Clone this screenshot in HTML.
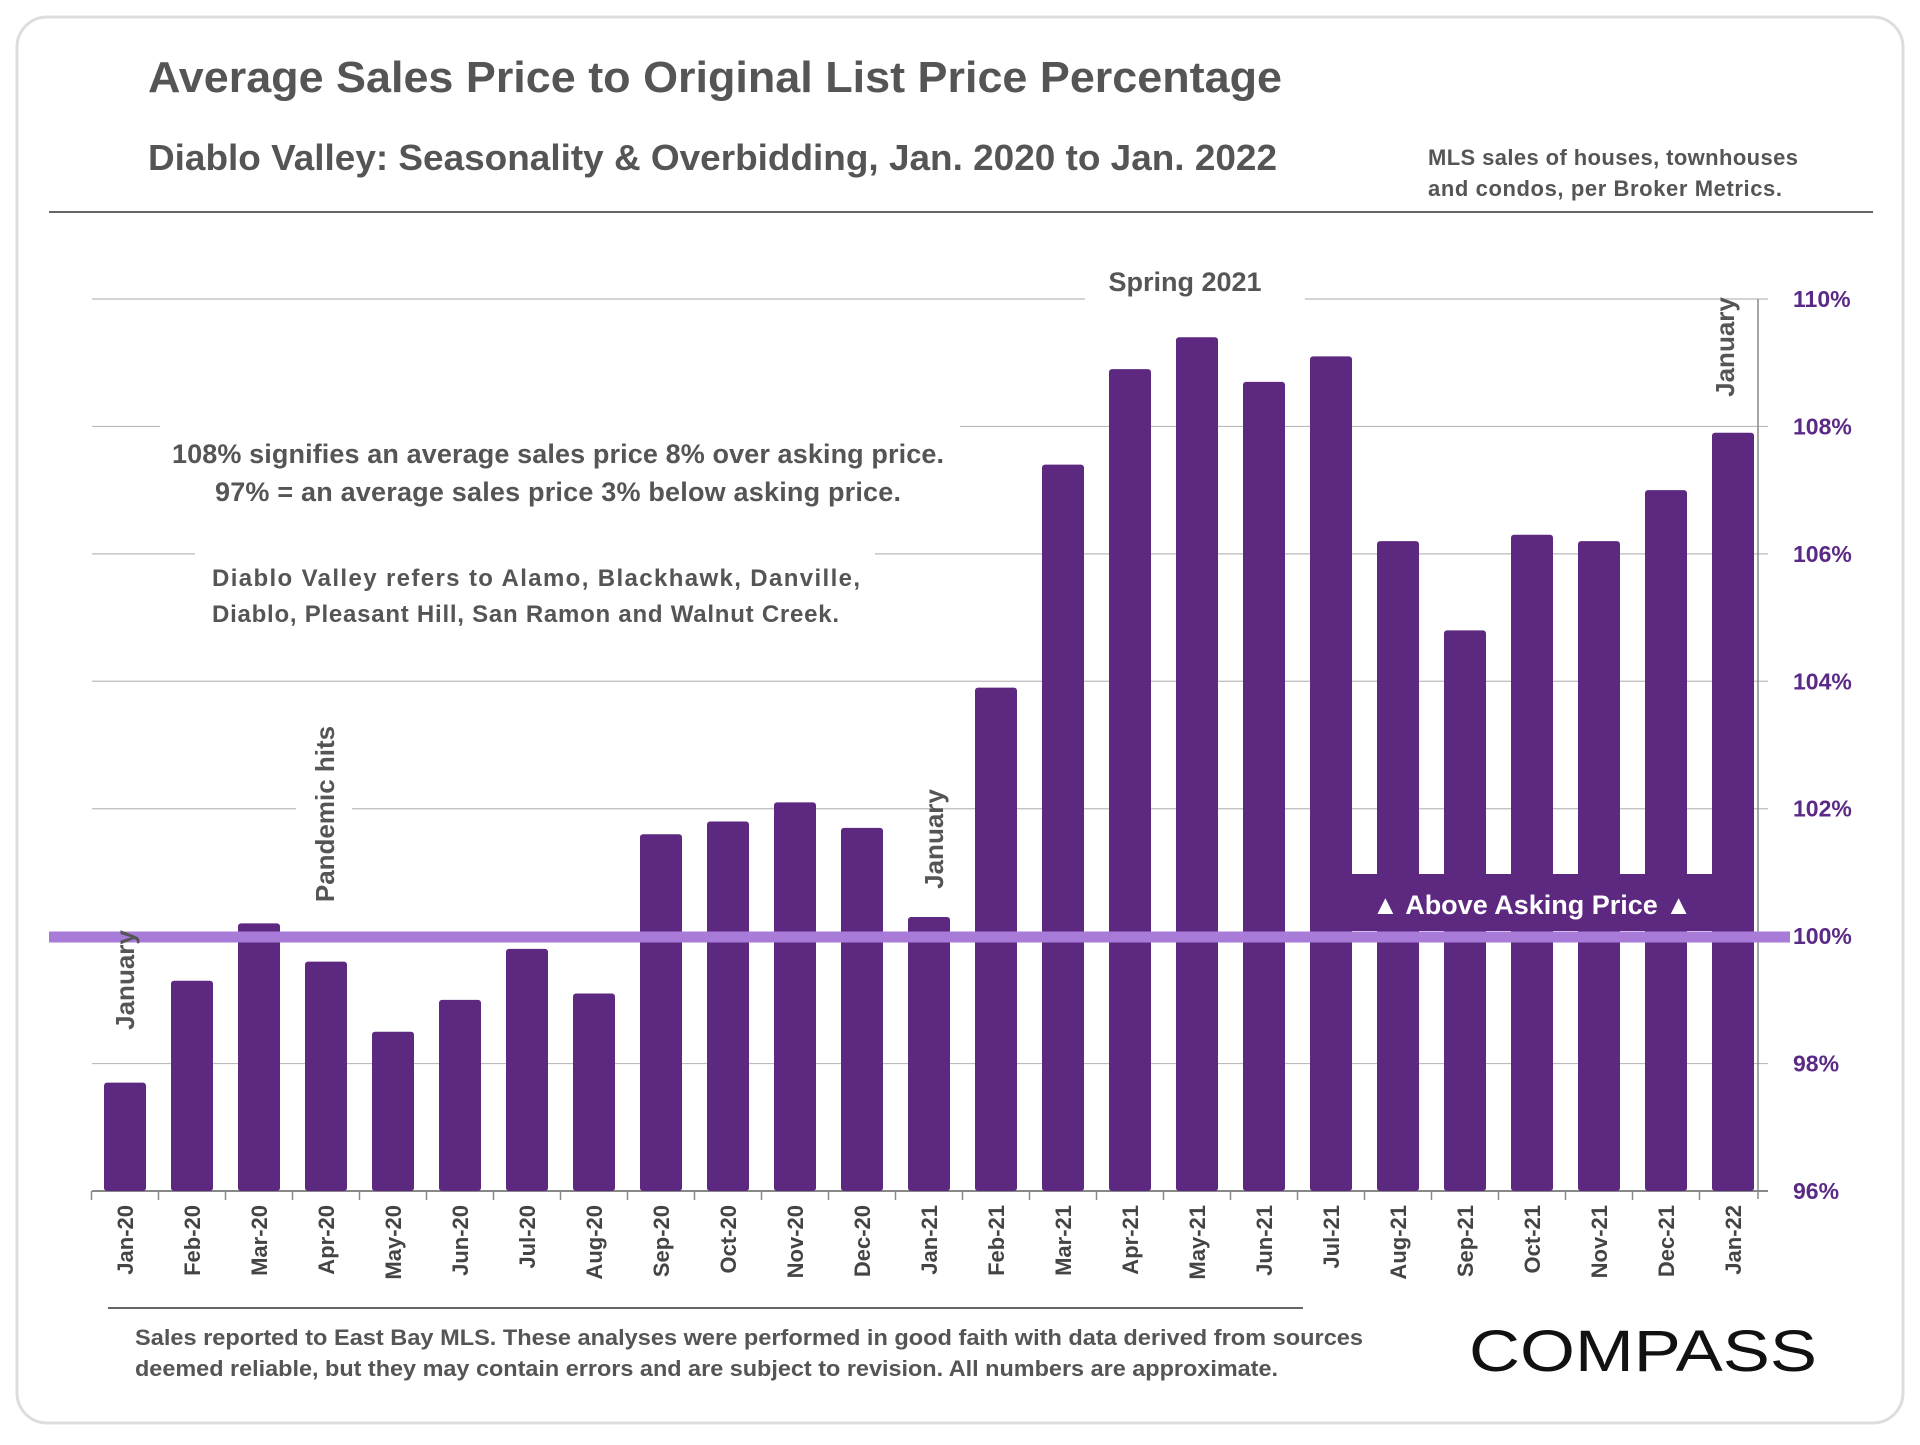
<!DOCTYPE html>
<html><head><meta charset="utf-8"><style>
body{margin:0;background:#fff;width:1920px;height:1440px;overflow:hidden;font-family:"Liberation Sans",sans-serif}
</style></head><body>
<svg width="1920" height="1440" xmlns="http://www.w3.org/2000/svg" font-family="Liberation Sans, sans-serif">
<rect x="17" y="17" width="1886" height="1406" rx="30" fill="#fff" stroke="#ddd" stroke-width="3"/>
<text x="148" y="92" font-size="44" font-weight="bold" fill="#555" textLength="1134" lengthAdjust="spacingAndGlyphs">Average Sales Price to Original List Price Percentage</text>
<text x="148" y="170" font-size="36" font-weight="bold" fill="#555" textLength="1129" lengthAdjust="spacingAndGlyphs">Diablo Valley: Seasonality &amp; Overbidding, Jan. 2020 to Jan. 2022</text>
<text x="1428" y="165" font-size="22" font-weight="bold" fill="#555" textLength="370">MLS sales of houses, townhouses</text>
<text x="1428" y="196" font-size="22" font-weight="bold" fill="#555" textLength="354">and condos, per Broker Metrics.</text>
<line x1="49" y1="212" x2="1873" y2="212" stroke="#666" stroke-width="2"/>
<g id="grid"></g>
<g id="bars"></g>
<g id="xlabels"></g>
<rect x="160" y="425" width="800" height="85" fill="#fff"/>
<rect x="195" y="552" width="680" height="76" fill="#fff"/>
<rect x="1085" y="260" width="220" height="50" fill="#fff"/>
<text x="558" y="463" font-size="27" font-weight="bold" fill="#555" text-anchor="middle" textLength="772">108% signifies an average sales price 8% over asking price.</text>
<text x="558" y="501" font-size="27" font-weight="bold" fill="#555" text-anchor="middle" textLength="686">97% = an average sales price 3% below asking price.</text>
<text x="212" y="586" font-size="24" font-weight="bold" fill="#555" textLength="648">Diablo Valley refers to Alamo, Blackhawk, Danville,</text>
<text x="212" y="622" font-size="24" font-weight="bold" fill="#555" textLength="627">Diablo, Pleasant Hill, San Ramon and Walnut Creek.</text>
<text x="1185" y="291" font-size="27" font-weight="bold" fill="#555" text-anchor="middle">Spring 2021</text>
<rect x="1351" y="874" width="363" height="57" fill="#5c2880"/>
<text x="1532" y="914" font-size="27" font-weight="bold" fill="#fff" text-anchor="middle">▲ Above Asking Price ▲</text>
<line x1="49" y1="937" x2="1790" y2="937" stroke="#a97bd8" stroke-width="11"/>
<rect x="296" y="720" width="56" height="190" fill="#fff"/>
<text transform="translate(134,980) rotate(-90)" font-size="26" font-weight="bold" fill="#555" text-anchor="middle">January</text>
<text transform="translate(334,814) rotate(-90)" font-size="26" font-weight="bold" fill="#555" text-anchor="middle">Pandemic hits</text>
<text transform="translate(943,839) rotate(-90)" font-size="26" font-weight="bold" fill="#555" text-anchor="middle">January</text>
<text transform="translate(1734,347) rotate(-90)" font-size="26" font-weight="bold" fill="#555" text-anchor="middle">January</text>
<line x1="108" y1="1308" x2="1303" y2="1308" stroke="#666" stroke-width="2"/>
<text x="135" y="1345" font-size="22" font-weight="bold" fill="#555" textLength="1228" lengthAdjust="spacingAndGlyphs">Sales reported to East Bay MLS. These analyses were performed in good faith with data derived from sources</text>
<text x="135" y="1376" font-size="22" font-weight="bold" fill="#555" textLength="1143" lengthAdjust="spacingAndGlyphs">deemed reliable, but they may contain errors and are subject to revision. All numbers are approximate.</text>
<text x="1469" y="1371" font-size="58" fill="#111" textLength="348" lengthAdjust="spacingAndGlyphs">COMPASS</text>
</svg>
<script>
const categories=["Jan-20","Feb-20","Mar-20","Apr-20","May-20","Jun-20","Jul-20","Aug-20","Sep-20","Oct-20","Nov-20","Dec-20","Jan-21","Feb-21","Mar-21","Apr-21","May-21","Jun-21","Jul-21","Aug-21","Sep-21","Oct-21","Nov-21","Dec-21","Jan-22"];
const values=[97.7,99.3,100.2,99.6,98.5,99.0,99.8,99.1,101.6,101.8,102.1,101.7,100.3,103.9,107.4,108.9,109.4,108.7,109.1,106.2,104.8,106.3,106.2,107.0,107.9];
const yTicks=[96,98,100,102,104,106,108,110];
const NS="http://www.w3.org/2000/svg";
const XA=92,XAX=1758,Y0=1191,Y1=299,YMIN=96,YMAX=110;
const FIRST=125,LAST=1733;
const step=(LAST-FIRST)/(categories.length-1);
function x(i){return FIRST+step*i;}
function y(v){return Y0-(v-YMIN)/(YMAX-YMIN)*(Y0-Y1);}
function mk(t,a,p){const e=document.createElementNS(NS,t);for(const k in a)e.setAttribute(k,a[k]);p.appendChild(e);return e;}
const grid=document.getElementById('grid'),bars=document.getElementById('bars'),xl=document.getElementById('xlabels');
yTicks.forEach(t=>{
 const l=mk('line',{x1:XA,x2:XAX+10,y1:y(t),y2:y(t),stroke:t===96?'#888':'#bbb','stroke-width':t===96?2:1.2},grid);
 
 
 const tx=mk('text',{x:XAX+35,y:y(t)+8,'font-size':23,'font-weight':'bold',fill:'#5b2a86'},grid);
 tx.textContent=t+'%';
 
 
});
const ax=mk('line',{x1:XAX,x2:XAX,y1:Y1,y2:Y0+8,stroke:'#888','stroke-width':1.5},grid);


for(let i=0;i<categories.length;i++){
 const tx0=x(i)-step/2;
 const tk=mk('line',{x1:tx0,x2:tx0,y1:Y0,y2:Y0+9,stroke:'#888','stroke-width':1.5},grid);
 
 
}
categories.forEach((c,i)=>{
 const bw=42,top=y(values[i]);
 const r=mk('rect',{x:x(i)-bw/2,y:top,width:bw,height:Y0-top,rx:3,fill:'#5c2880'},bars);
 
 
 const t=mk('text',{transform:`translate(${x(i)+8},${Y0+14}) rotate(-90)`,'font-size':22,'font-weight':'bold',fill:'#444','text-anchor':'end'},xl);
 t.textContent=c;
 
 
});
</script>
</body></html>
